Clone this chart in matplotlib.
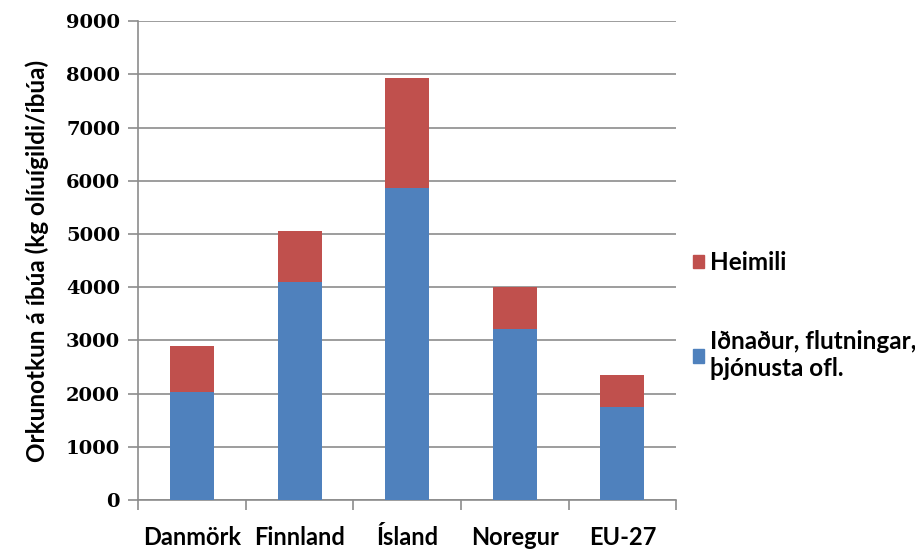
import numpy as np
import matplotlib.pyplot as plt
from matplotlib.patches import Patch

# gögn lesin af myndinni
lond = ['Danmörk', 'Finnland', 'Ísland', 'Noregur', 'EU-27']
idnadur = [2030, 4100, 5870, 3210, 1750]   # Iðnaður, flutningar, þjónusta ofl.
heimili = [860, 950, 2070, 790, 600]       # Heimili
y_ticks = [0, 1000, 2000, 3000, 4000, 5000, 6000, 7000, 8000, 9000]

blue = '#4F81BD'
red = '#C0504D'
grid_col = '#8C8C8C'

fig = plt.figure(figsize=(9.15, 5.51), dpi=100)
ax = fig.add_axes([0.151, 0.0926, 0.588, 0.869])

x = np.arange(len(lond))
ax.bar(x, idnadur, width=0.41, color=blue, zorder=3)
ax.bar(x, heimili, width=0.41, bottom=idnadur, color=red, zorder=3)

ax.set_xlim(-0.5, len(lond) - 0.5)
ax.set_ylim(0, 9000)
ax.set_yticks(y_ticks)
ax.set_yticklabels([str(v) for v in y_ticks], family='DejaVu Serif',
                   fontweight='bold', fontsize=14)
ax.yaxis.grid(True, color=grid_col, linewidth=1.2, zorder=0)

# kategoríur á milli tikka
ax.set_xticks(np.arange(len(lond) + 1) - 0.5)
ax.set_xticklabels([])
ax.set_xticks(x, minor=True)
ax.set_xticklabels(lond, minor=True, family='Lato', fontweight='bold',
                   fontsize=17)
ax.tick_params(axis='x', which='minor', length=0, pad=19)
ax.tick_params(axis='x', which='major', length=7, color=grid_col, width=1.2)
ax.tick_params(axis='y', length=7, color=grid_col, width=1.2, pad=6)

for s in ['top', 'right']:
    ax.spines[s].set_visible(False)
for s in ['left', 'bottom']:
    ax.spines[s].set_color(grid_col)
    ax.spines[s].set_linewidth(1.2)

ax.set_ylabel('Orkunotkun á íbúa (kg olíuígildi/íbúa)', family='Lato',
              fontweight='bold', fontsize=17.5, labelpad=12)

handles = [Patch(color=red), Patch(color=blue)]
labels = ['Heimili', 'Iðnaður, flutningar,\nþjónusta ofl.']
fig.legend(handles, labels, loc='center left', bbox_to_anchor=(0.744, 0.427),
           frameon=False, borderpad=0,
           prop={'family': 'Lato', 'weight': 'bold', 'size': 17.5},
           handlelength=0.45, handleheight=0.45, handletextpad=0.25,
           labelspacing=2.3)

fig.savefig('out.png', dpi=100)
